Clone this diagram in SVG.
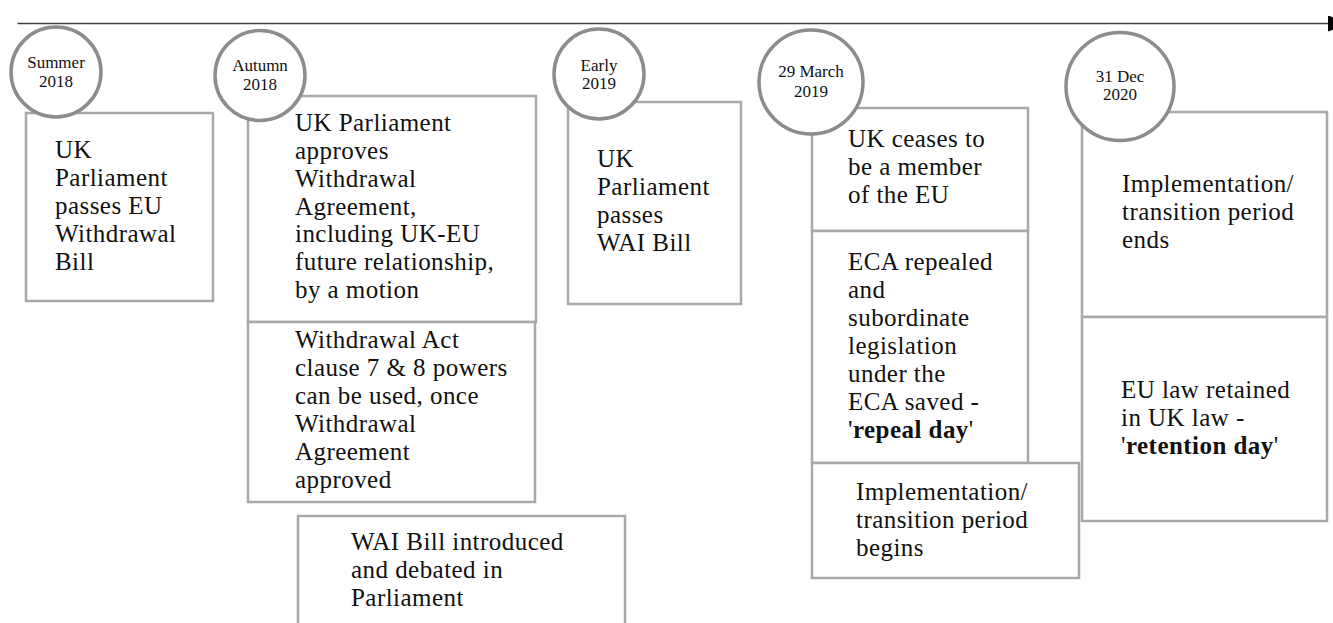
<svg xmlns="http://www.w3.org/2000/svg" width="1333" height="623" viewBox="0 0 1333 623">
<defs>
<style>
.box{fill:#fff;stroke:#a9a9a9;stroke-width:2.5}
.circ{fill:#fff;stroke:#8c8c8c;stroke-width:3.5}
.t{font-family:"Liberation Serif","Times New Roman",serif;font-size:25px;letter-spacing:0.45px;fill:#111}
.d{font-family:"Liberation Serif","Times New Roman",serif;font-size:17px;fill:#111;text-anchor:middle}
.b{font-weight:bold}
</style>
<marker id="arr" markerWidth="24" markerHeight="16" refX="0" refY="8" orient="auto" markerUnits="userSpaceOnUse">
<path d="M0,0 L24,8 L0,16 Z" fill="#000"/>
</marker>
</defs>
<rect width="1333" height="623" fill="#fff"/>
<g id="connectors">
<line x1="17.5" y1="23.5" x2="1328" y2="23.5" stroke="#404040" stroke-width="1.6" marker-end="url(#arr)"/>
</g>
<g id="box-summer">
<rect class="box" x="26" y="113" width="187" height="188"/>
<text class="t"><tspan x="55" y="158">UK</tspan><tspan x="55" y="186">Parliament</tspan><tspan x="55" y="214">passes EU</tspan><tspan x="55" y="242">Withdrawal</tspan><tspan x="55" y="270">Bill</tspan></text>
</g>
<g id="box-autumn-approve">
<rect class="box" x="248" y="96" width="288" height="226"/>
<text class="t"><tspan x="295" y="131">UK Parliament</tspan><tspan x="295" y="159">approves</tspan><tspan x="295" y="187">Withdrawal</tspan><tspan x="295" y="215">Agreement,</tspan><tspan x="295" y="242">including UK-EU</tspan><tspan x="295" y="270">future relationship,</tspan><tspan x="295" y="298">by a motion</tspan></text>
</g>
<g id="box-autumn-powers">
<rect class="box" x="248" y="322" width="287" height="180"/>
<text class="t"><tspan x="295" y="348">Withdrawal Act</tspan><tspan x="295" y="376">clause 7 &amp; 8 powers</tspan><tspan x="295" y="404">can be used, once</tspan><tspan x="295" y="432">Withdrawal</tspan><tspan x="295" y="460">Agreement</tspan><tspan x="295" y="488">approved</tspan></text>
</g>
<g id="box-wai-debated">
<rect class="box" x="298" y="516" width="327" height="130"/>
<text class="t"><tspan x="351" y="550">WAI Bill introduced</tspan><tspan x="351" y="578">and debated in</tspan><tspan x="351" y="606">Parliament</tspan></text>
</g>
<g id="box-early">
<rect class="box" x="568" y="102" width="173" height="202"/>
<text class="t"><tspan x="597" y="167">UK</tspan><tspan x="597" y="195">Parliament</tspan><tspan x="597" y="223">passes</tspan><tspan x="597" y="251">WAI Bill</tspan></text>
</g>
<g id="box-march-ceases">
<rect class="box" x="812" y="108" width="216" height="123"/>
<text class="t"><tspan x="848" y="147">UK ceases to</tspan><tspan x="848" y="175">be a member</tspan><tspan x="848" y="203">of the EU</tspan></text>
</g>
<g id="box-march-repeal">
<rect class="box" x="812" y="231" width="216" height="232"/>
<text class="t"><tspan x="848" y="270">ECA repealed</tspan><tspan x="848" y="298">and</tspan><tspan x="848" y="326">subordinate</tspan><tspan x="848" y="354">legislation</tspan><tspan x="848" y="382">under the</tspan><tspan x="848" y="410">ECA saved -</tspan><tspan x="848" y="438">'<tspan class="b">repeal day</tspan>'</tspan></text>
</g>
<g id="box-march-begins">
<rect class="box" x="812" y="463" width="267" height="115"/>
<text class="t"><tspan x="856" y="500">Implementation/</tspan><tspan x="856" y="528">transition period</tspan><tspan x="856" y="556">begins</tspan></text>
</g>
<g id="box-dec-ends">
<rect class="box" x="1082" y="112" width="245" height="205"/>
<text class="t"><tspan x="1122" y="192">Implementation/</tspan><tspan x="1122" y="220">transition period</tspan><tspan x="1122" y="248">ends</tspan></text>
</g>
<g id="box-dec-retention">
<rect class="box" x="1082" y="317" width="245" height="204"/>
<text class="t"><tspan x="1121" y="398">EU law retained</tspan><tspan x="1121" y="426">in UK law -</tspan><tspan x="1121" y="454">'<tspan class="b">retention day</tspan>'</tspan></text>
</g>
<g id="date-summer-2018">
<circle class="circ" cx="56" cy="72" r="45"/>
<text class="d"><tspan x="56" y="68">Summer</tspan><tspan x="56" y="87">2018</tspan></text>
</g>
<g id="date-autumn-2018">
<circle class="circ" cx="260" cy="75.5" r="45"/>
<text class="d"><tspan x="260" y="71">Autumn</tspan><tspan x="260" y="90">2018</tspan></text>
</g>
<g id="date-early-2019">
<circle class="circ" cx="599" cy="74" r="45"/>
<text class="d"><tspan x="599" y="70.5">Early</tspan><tspan x="599" y="89">2019</tspan></text>
</g>
<g id="date-29-march-2019">
<circle class="circ" cx="811" cy="82" r="52"/>
<text class="d"><tspan x="811" y="77">29 March</tspan><tspan x="811" y="96.5">2019</tspan></text>
</g>
<g id="date-31-dec-2020">
<circle class="circ" cx="1120" cy="86.5" r="54"/>
<text class="d"><tspan x="1120" y="81.5">31 Dec</tspan><tspan x="1120" y="100">2020</tspan></text>
</g>
</svg>
